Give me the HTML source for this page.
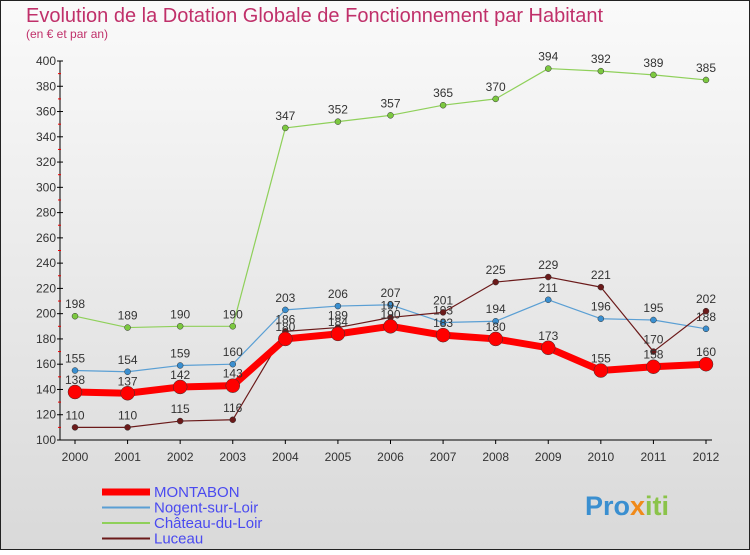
<!DOCTYPE html>
<html><head><meta charset="utf-8"><style>
body{margin:0;width:750px;height:550px;overflow:hidden;font-family:"Liberation Sans","DejaVu Sans",sans-serif}
</style></head><body>
<svg id="c" width="750" height="550" xmlns="http://www.w3.org/2000/svg">
<defs><linearGradient id="bg" x1="0" y1="0" x2="0" y2="1"><stop offset="0" stop-color="#fafafa"/><stop offset="1" stop-color="#d9d9d9"/></linearGradient></defs>
<rect x="0.5" y="0.5" width="749" height="549" fill="url(#bg)" stroke="#222"/>
<text x="26" y="22" font-size="20" fill="#c0306a">Evolution de la Dotation Globale de Fonctionnement par Habitant</text>
<text x="26" y="38" font-size="12" fill="#c0306a">(en € et par an)</text>
<g id="axes"></g><g id="series"></g><g id="legend"></g>
<text x="585" y="515" font-size="27" font-weight="bold" fill="#3a8fd0">Pro<tspan fill="#f08a1a">x</tspan><tspan fill="#8bc34a">iti</tspan></text>
</svg>
<script>
const years=[2000,2001,2002,2003,2004,2005,2006,2007,2008,2009,2010,2011,2012];
const montabon=[138,137,142,143,180,184,190,183,180,173,155,158,160];
const nogent=[155,154,159,160,203,206,207,193,194,211,196,195,188];
const chateau=[198,189,190,190,347,352,357,365,370,394,392,389,385];
const luceau=[110,110,115,116,186,189,197,201,225,229,221,170,202];
const yTicks=[100,120,140,160,180,200,220,240,260,280,300,320,340,360,380,400];
const NS="http://www.w3.org/2000/svg";
const X=i=>75+i*(631/12);
const Y=v=>440-(v-100)*(379/300);
function el(t,a,p){const e=document.createElementNS(NS,t);for(const k in a)e.setAttribute(k,a[k]);p.appendChild(e);return e;}
const ax=document.getElementById('axes');
let l=el('line',{x1:60,y1:Y(400),x2:60,y2:Y(100),stroke:'#000'},ax);


l=el('line',{x1:60,y1:Y(100),x2:712,y2:Y(100),stroke:'#000'},ax);


yTicks.forEach(v=>{
  el('line',{x1:57,y1:Y(v),x2:63,y2:Y(v),stroke:'#000'},ax);
  if(v<400){el('line',{x1:58,y1:Y(v+10),x2:61,y2:Y(v+10),stroke:'#e00'},ax);}
  const t=el('text',{x:56,y:Y(v)+4,'font-size':12,fill:'#333','text-anchor':'end'},ax);t.textContent=v;
  
  
});
years.forEach((y,i)=>{
  el('line',{x1:X(i),y1:Y(100),x2:X(i),y2:Y(100)+4,stroke:'#000'},ax);
  const t=el('text',{x:X(i),y:Y(100)+21,'font-size':12,fill:'#333','text-anchor':'middle'},ax);t.textContent=y;
  
  
});
const sg=document.getElementById('series');
function draw(vals,color,w,r,name,dot){
  const g=el('g',{},sg);
  
  
  el('polyline',{points:vals.map((v,i)=>X(i)+','+Y(v)).join(' '),fill:'none',stroke:color,'stroke-width':w,'stroke-linejoin':'round'},g);
  vals.forEach((v,i)=>{
    const c=el('circle',{cx:X(i),cy:Y(v),r:r,fill:dot,stroke:'#333','stroke-width':0.5},g);
    
    
    const t=el('text',{x:X(i),y:Y(v)-8,'font-size':12,fill:'#333','text-anchor':'middle'},g);t.textContent=v;
    
    
  });
}
draw(chateau,'#8fd05a',1.2,3,'chateau','#7cc840');
draw(nogent,'#5a9fd4',1.2,3,'nogent','#3a8fd0');
draw(luceau,'#6b1a1a',1.2,3,'luceau','#6b1a1a');
draw(montabon,'#ff0000',7,7,'montabon','#ff0000');
const lg=document.getElementById('legend');
const items=[['MONTABON','#ff0000',7],['Nogent-sur-Loir','#5a9fd4',2],['Château-du-Loir','#8fd05a',2],['Luceau','#6b1a1a',2]];
items.forEach((it,i)=>{
  const y=492+i*15.5;
  const g=el('g',{},lg);
  
  
  el('line',{x1:102,y1:y,x2:150,y2:y,stroke:it[1],'stroke-width':it[2]},g);
  const t=el('text',{x:154,y:y+5,'font-size':15,fill:'#4a4af0'},g);t.textContent=it[0];
});
</script>
</body></html>
